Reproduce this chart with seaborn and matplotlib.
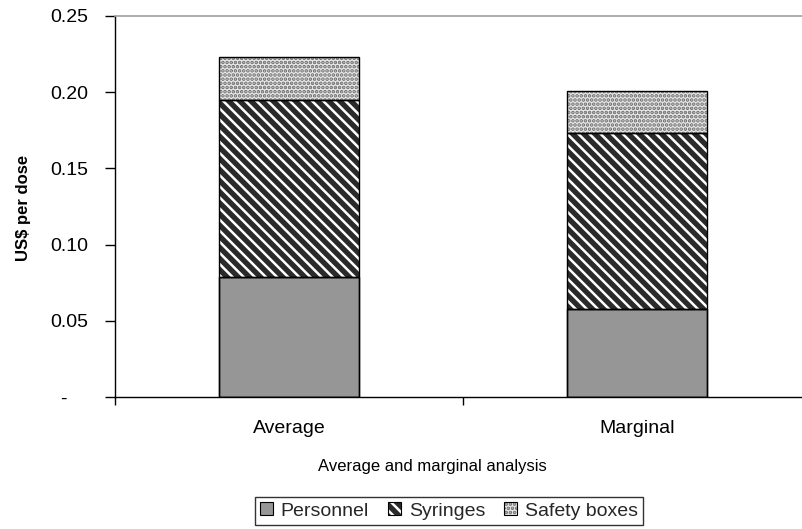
import matplotlib
matplotlib.use("Agg")
import matplotlib.pyplot as plt
import seaborn as sns
import numpy as np
import pandas as pd
from matplotlib.patches import Patch, Rectangle
from matplotlib.legend_handler import HandlerTuple

categories = ["Average", "Marginal"]
personnel = [0.079, 0.058]
syringes = [0.116, 0.115]
safety_boxes = [0.028, 0.028]
series_names = ["Personnel", "Syringes", "Safety boxes"]
y_ticks = [0, 0.05, 0.10, 0.15, 0.20, 0.25]
y_tick_labels = ["-    ", "0.05", "0.10", "0.15", "0.20", "0.25"]

sns.set_theme(style="white")
plt.rcParams['font.family'] = ['Liberation Sans', 'DejaVu Sans']
plt.rcParams['hatch.linewidth'] = 1.8

fig = plt.figure(figsize=(8.03, 5.29), dpi=100)
ax = fig.add_axes([115/803, 1-397/529, 696/803, 381/529])

styles = [
    dict(face="#969696", hatch=None, hc="black", lw=1.0),
    dict(face="#2a2a2a", hatch="\\\\\\", hc="white", lw=0),
    dict(face="#e8e8e8", hatch="....", hc="#6a6a6a", lw=0),
]

bottom = np.zeros(len(categories))
outlines = []
for name, vals, st in zip(series_names, [personnel, syringes, safety_boxes], styles):
    df = pd.DataFrame({"cat": categories, "val": vals})
    n0 = len(ax.patches)
    sns.barplot(data=df, x="cat", y="val", bottom=bottom, width=0.4,
                color=st["face"], saturation=1, errorbar=None, ax=ax)
    for p in ax.patches[n0:]:
        p.set_facecolor(st["face"])
        p.set_edgecolor(st["hc"])
        p.set_linewidth(st["lw"])
        if st["hatch"]:
            p.set_hatch(st["hatch"])
        outlines.append((p.get_x(), p.get_y(), p.get_width(), p.get_height()))
    bottom = bottom + np.array(vals)

for (x, y, w, h) in outlines:
    ax.add_patch(Rectangle((x, y), w, h, fill=False, edgecolor="black",
                           linewidth=1.0, zorder=3))

ax.set_xlim(-0.5, 1.5)
ax.set_ylim(0, 0.25)
ax.set_yticks(y_ticks, y_tick_labels)
ax.set_xticks([-0.5, 0.5, 1.5], ["", "", ""])
ax.set_xticks([0, 1], categories, minor=True)
ax.tick_params(axis="x", which="major", bottom=True, length=6, width=1, color="black", direction="out")
ax.tick_params(axis="x", which="minor", bottom=True, length=0, pad=16.5, labelsize=14, labelcolor="black")
ax.tick_params(axis="y", left=True, length=7, width=1, color="black", direction="out", pad=12,
               labelsize=14, labelcolor="black")

for s in ["left", "bottom"]:
    ax.spines[s].set_color("black")
    ax.spines[s].set_linewidth(1)
ax.spines["top"].set_color("#a0a0a0")
ax.spines["top"].set_linewidth(1.2)
ax.spines["right"].set_visible(False)

ax.set_xlabel("Average and marginal analysis", fontsize=12, color="black")
ax.xaxis.set_label_coords((432-115)/696, (397-459)/381)
ax.set_ylabel("US$ per dose", fontsize=12, fontweight="bold", color="black")
ax.yaxis.set_label_coords((31-115)/696, (397-208)/381)

handles = []
for st in styles:
    base = Patch(facecolor=st["face"], edgecolor=st["hc"], linewidth=0, hatch=st["hatch"])
    edge = Patch(facecolor="none", edgecolor="black", linewidth=0.8)
    handles.append((base, edge))
leg = fig.legend(handles, series_names, handler_map={tuple: HandlerTuple(ndivide=1)},
                 loc="center", bbox_to_anchor=(449/803, 1-511/529), ncol=3,
                 fontsize=14, frameon=True, fancybox=False, edgecolor="black",
                 handlelength=0.65, handleheight=0.65, handletextpad=0.4, columnspacing=1.0,
                 borderpad=0.25, borderaxespad=0)
leg.get_frame().set_linewidth(1)

fig.savefig("out.png", dpi=100)
